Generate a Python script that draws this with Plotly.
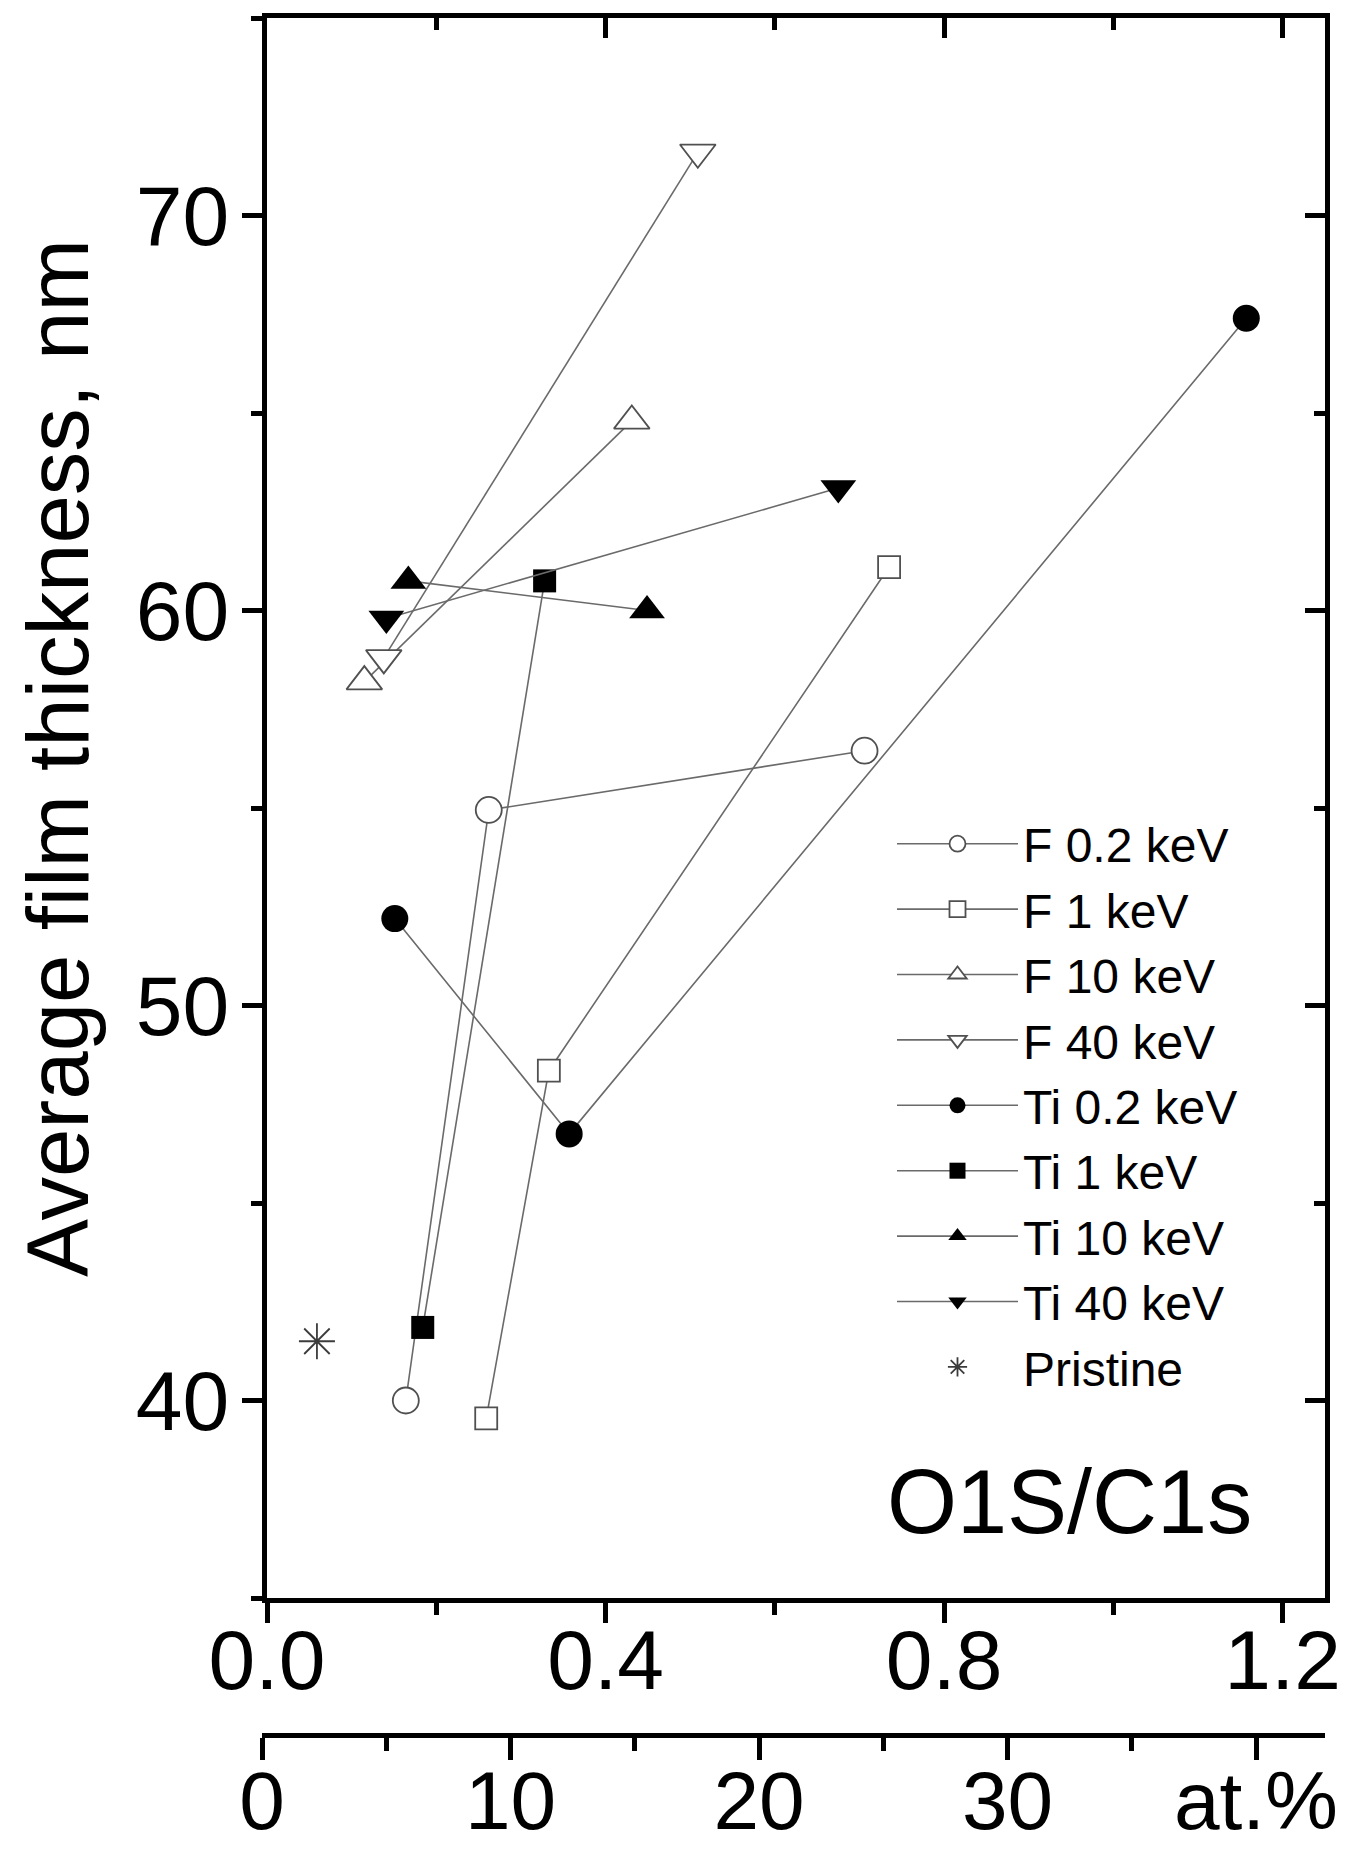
import plotly.graph_objects as go

# ---------------- data ----------------
series_names = ["F 0.2 keV", "F 1 keV", "F 10 keV", "F 40 keV",
                "Ti 0.2 keV", "Ti 1 keV", "Ti 10 keV", "Ti 40 keV"]

f02_x = [0.164, 0.262, 0.706]
f02_y = [40.0, 54.95, 56.45]

f1_x = [0.259, 0.333, 0.735]
f1_y = [39.55, 48.35, 61.1]

f10_x = [0.115, 0.431]
f10_y = [58.2, 64.8]

f40_x = [0.138, 0.509]
f40_y = [58.8, 71.6]

ti02_x = [0.151, 0.357, 1.157]
ti02_y = [52.2, 46.75, 67.4]

ti1_x = [0.184, 0.328]
ti1_y = [41.85, 60.75]

ti10_x = [0.167, 0.449]
ti10_y = [60.75, 60.0]

ti40_x = [0.141, 0.675]
ti40_y = [59.8, 63.1]

pristine_x = [0.059]
pristine_y = [41.5]

x_ticks = [0.0, 0.4, 0.8, 1.2]
x_ticktext = ["0.0", "0.4", "0.8", "1.2"]
x_minor = [0.2, 0.6, 1.0]
y_ticks = [40, 50, 60, 70]
y_minor = [35, 45, 55, 65, 75]
at_ticks = [0, 10, 20, 30, 40]
at_ticktext = ["0", "10", "20", "30", "at.%"]
at_minor = [5, 15, 25, 35]

# ---------------- layout geometry ----------------
FONT = "Liberation Sans, Arial, Helvetica, sans-serif"
OFF = 8                      # page body margin of the html
W, H = 1356 - OFF, 1850 - OFF
ML = 262 - OFF               # paper starts where the at.% axis starts
MT = 18 - OFF
MR = W - (1325 - OFF)
MB = H - (1735 - OFF)
PW = W - ML - MR
PH = H - MT - MB
LINE_C = "#6a6a6a"
OPEN_C = "#505050"


def px_x(px):
    """reference-picture x pixel -> paper fraction"""
    return (px - OFF - ML) / PW


def px_y(py):
    """reference-picture y pixel -> paper fraction"""
    return (H - MB - (py - OFF)) / PH


series = [
    (f02_x, f02_y, "circle", "white", OPEN_C, 26),
    (f1_x, f1_y, "square", "white", OPEN_C, 22),
    (f10_x, f10_y, "triangle-up", "white", OPEN_C, 31),
    (f40_x, f40_y, "triangle-down", "white", OPEN_C, 31),
    (ti02_x, ti02_y, "circle", "black", "black", 27),
    (ti1_x, ti1_y, "square", "black", "black", 23),
    (ti10_x, ti10_y, "triangle-up", "black", "black", 31),
    (ti40_x, ti40_y, "triangle-down", "black", "black", 31),
]

fig = go.Figure()
for name, (xs, ys, sym, fill, edge, size) in zip(series_names, series):
    fig.add_trace(go.Scatter(
        x=xs, y=ys, name=name, mode="lines+markers",
        line=dict(color=LINE_C, width=1.6),
        marker=dict(symbol=sym, size=size, color=fill,
                    line=dict(color=edge, width=1.8 if fill == "white" else 0)),
    ))

fig.add_trace(go.Scatter(
    x=pristine_x, y=pristine_y, name="Pristine", mode="markers",
    marker=dict(symbol="asterisk-open", size=30, color="#3c3c3c",
                line=dict(color="#3c3c3c", width=1.8)),
))

# empty helper traces so that the frame / secondary axes get drawn
for xa, ya in (("x2", "y"), ("x3", "y"), ("x", "y2")):
    fig.add_trace(go.Scatter(x=[None], y=[None], xaxis=xa, yaxis=ya,
                             mode="markers", showlegend=False, hoverinfo="skip"))

tickfont = dict(family=FONT, size=84, color="black")
common = dict(showline=True, linewidth=5, linecolor="black", showgrid=False,
              zeroline=False, tickwidth=5, tickcolor="black", automargin=False)

x_range = [0, 1.25]
y_range = [35, 75]
AT_PX = 24.85                 # pixels per 1 at.%
at_range = [0, (1325 - 262) / AT_PX]
x_domain = [px_x(267), 1]

fig.update_layout(
    width=W, height=H,
    margin=dict(l=ML, r=MR, t=MT, b=MB),
    paper_bgcolor="white", plot_bgcolor="rgba(0,0,0,0)",
    font=dict(family=FONT, color="black"),
    xaxis=dict(domain=x_domain, range=x_range, anchor="y",
               ticks="outside", ticklen=20, tickvals=x_ticks, ticktext=x_ticktext,
               ticklabelstandoff=-35, tickfont=tickfont,
               minor=dict(tickvals=x_minor, ticks="outside", ticklen=12,
                          tickwidth=5, tickcolor="black"),
               **common),
    xaxis3=dict(domain=x_domain, range=x_range, overlaying="x", side="top",
                anchor="y", ticks="inside", ticklen=20, tickvals=x_ticks[1:],
                showticklabels=False,
                minor=dict(tickvals=x_minor, ticks="inside", ticklen=12,
                           tickwidth=5, tickcolor="black"),
                **common),
    xaxis2=dict(domain=[0, 1], range=at_range, anchor="free", position=0,
                side="bottom",
                ticks="outside", ticklen=22, tickvals=at_ticks, ticktext=at_ticktext,
                ticklabelstandoff=-29,
                tickfont=dict(family=FONT, size=82, color="black"),
                minor=dict(tickvals=at_minor, ticks="outside", ticklen=13,
                           tickwidth=5, tickcolor="black"),
                **common),
    yaxis=dict(domain=[px_y(1598), 1], range=y_range, anchor="x",
               ticks="outside", ticklen=20, tickvals=y_ticks,
               ticklabelstandoff=-4, tickfont=tickfont,
               minor=dict(tickvals=y_minor, ticks="outside", ticklen=11,
                          tickwidth=5, tickcolor="black"),
               **common),
    yaxis2=dict(range=y_range, overlaying="y", side="right", anchor="x",
                ticks="inside", ticklen=20, tickvals=y_ticks,
                showticklabels=False,
                minor=dict(tickvals=y_minor[1:-1], ticks="inside", ticklen=11,
                           tickwidth=5, tickcolor="black"),
                **common),
    legend=dict(x=px_x(892), y=px_y(806), xanchor="left", yanchor="top",
                font=dict(family=FONT, size=48, color="black"),
                bgcolor="rgba(0,0,0,0)", borderwidth=0, itemwidth=121,
                tracegroupgap=0),
    showlegend=True,
)

fig.add_annotation(
    text="Average film thickness, nm", textangle=-90,
    xref="paper", yref="paper", x=px_x(58), y=px_y(758),
    xanchor="center", yanchor="middle", showarrow=False,
    font=dict(family=FONT, size=87, color="black"),
)
fig.add_annotation(
    text="O1S/C1s",
    xref="paper", yref="paper", x=px_x(1254), y=px_y(1502),
    xanchor="right", yanchor="middle", showarrow=False,
    font=dict(family=FONT, size=90, color="black"),
)

fig.write_html("out.html")
